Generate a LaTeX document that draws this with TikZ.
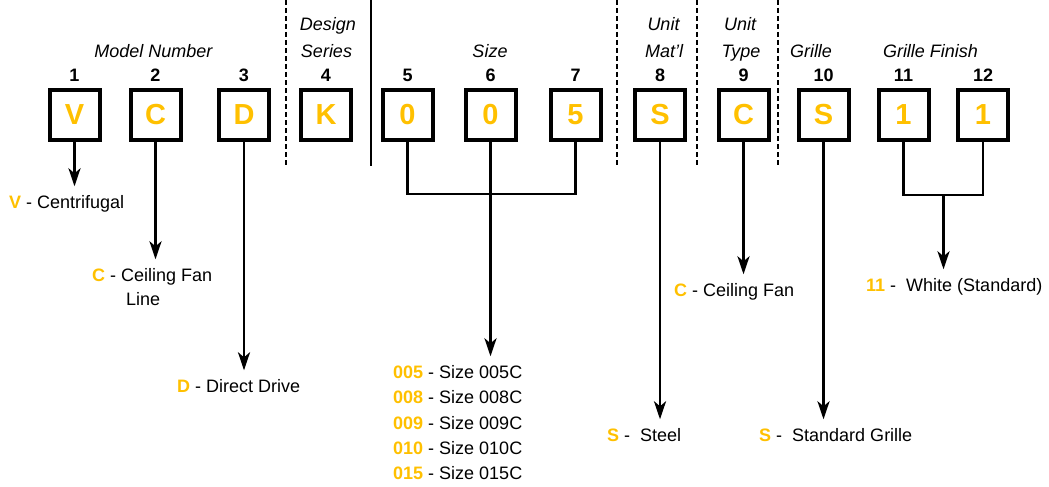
\documentclass[tikz,border=0pt]{standalone}
\usepackage{fontspec}
\setmainfont{Liberation Sans}
\usetikzlibrary{arrows.meta}
\definecolor{codegold}{RGB}{255,192,0}
\newcommand{\codeval}[1]{\textcolor{codegold}{\textbf{#1}}}

\begin{document}
\begin{tikzpicture}[x=1pt, y=-1pt, >={Stealth[length=18pt,width=12pt,inset=5pt]},
  digit/.style={draw, line width=4pt, minimum size=50pt, inner sep=0pt, text=codegold, font=\fontsize{29}{29}\selectfont\bfseries},
  posnum/.style={inner sep=0pt, font=\fontsize{18}{18}\selectfont\bfseries},
  cat/.style={anchor=base, inner sep=0pt, font=\fontsize{18}{18}\selectfont\itshape},
  desc/.style={anchor=west, inner xsep=0pt, inner ysep=9pt, text height=13pt, text depth=4pt, font=\fontsize{18}{18}\selectfont},
  wire/.style={line width=2.8pt},
  sep/.style={line width=2pt, dash pattern=on 5pt off 3pt}]
  \useasboundingbox (0,0) rectangle (1049,487);
  % code boxes
  \node[digit] (b1) at (74.5,115) {V};
  \node[digit] (b2) at (155.5,115) {C};
  \node[digit] (b3) at (244,115) {D};
  \node[digit] (b4) at (326,115) {K};
  \node[digit] (b5) at (407.5,115) {0};
  \node[digit] (b6) at (490.5,115) {0};
  \node[digit] (b7) at (575.5,115) {5};
  \node[digit] (b8) at (660,115) {S};
  \node[digit] (b9) at (743.5,115) {C};
  \node[digit] (b10) at (823.5,115) {S};
  \node[digit] (b11) at (903.5,115) {1};
  \node[digit] (b12) at (983,115) {1};
  % digit positions
  \node[posnum] (n1) at (74.5,75.5) {1};
  \node[posnum] (n2) at (155.5,75.5) {2};
  \node[posnum] (n3) at (244,75.5) {3};
  \node[posnum] (n4) at (326,75.5) {4};
  \node[posnum] (n5) at (407.5,75.5) {5};
  \node[posnum] (n6) at (490.5,75.5) {6};
  \node[posnum] (n7) at (575.5,75.5) {7};
  \node[posnum] (n8) at (660,75.5) {8};
  \node[posnum] (n9) at (743.5,75.5) {9};
  \node[posnum] (n10) at (823.5,75.5) {10};
  \node[posnum] (n11) at (903.5,75.5) {11};
  \node[posnum] (n12) at (983,75.5) {12};
  % group titles
  \node[cat] (c1) at (153.5,57) {Model Number};
  \node[cat] (c2) at (328,31) {Design};
  \node[cat] (c2b) at (326.5,57) {Series};
  \node[cat] (c3) at (490,57) {Size};
  \node[cat] (c4) at (663.5,31) {Unit};
  \node[cat] (c4b) at (664,57) {Mat’l};
  \node[cat] (c5) at (740,31) {Unit};
  \node[cat] (c5b) at (741,57) {Type};
  \node[cat] (c6) at (811,57) {Grille};
  \node[cat] (c7) at (930.5,57) {Grille Finish};
  % separators
  \draw[sep] (285.5,0) -- (285.5,167);
  \draw[line width=2pt] (371,0) -- (371,166);
  \draw[sep] (617,0) -- (617,166);
  \draw[sep] (697,0) -- (697,166);
  \draw[sep] (777.5,0) -- (777.5,166);
  % meanings
  \node[desc] (d1) at (9,204) {\codeval{V} - Centrifugal};
  \node[desc] (d2) at (92,277) {\codeval{C} - Ceiling Fan};
  \node[desc] (d2b) at (126,301) {Line};
  \node[desc] (d3) at (177,388) {\codeval{D} - Direct Drive};
  \node[desc] (s1) at (393,374) {\codeval{005} - Size 005C};
  \node[desc] (s2) at (393,399) {\codeval{008} - Size 008C};
  \node[desc] (s3) at (393,424.5) {\codeval{009} - Size 009C};
  \node[desc] (s4) at (393,449.5) {\codeval{010} - Size 010C};
  \node[desc] (s5) at (393,475) {\codeval{015} - Size 015C};
  \node[desc] (d8) at (607,437) {\codeval{S} -\ \ Steel};
  \node[desc] (d9) at (674,292) {\codeval{C} - Ceiling Fan};
  \node[desc] (d10) at (759,437) {\codeval{S} -\ \ Standard Grille};
  \node[desc] (d11) at (866,287) {\codeval{11} -\ \ White (Standard)};
  % leaders
  \coordinate (j1) at (490.5,194);
  \coordinate (j2) at (943.5,195);
  \draw[wire,->] (b1) -- (b1 |- d1.north);
  \draw[wire,->] (b2) -- (b2 |- d2.north);
  \draw[wire,->] (b3) -- (b3 |- d3.north);
  \draw[wire] (b5) |- (j1) -| (b7);
  \draw[wire,->] (b6) -- (b6 |- s1.north);
  \draw[wire,->] (b8) -- (b8 |- d8.north);
  \draw[wire,->] (b9) -- (b9 |- d9.north);
  \draw[wire,->] (b10) -- (b10 |- d10.north);
  \draw[wire] (b11) |- (j2) -| (b12);
  \draw[wire,->] (j2) -- (j2 |- d11.north);
\end{tikzpicture}
\end{document}
